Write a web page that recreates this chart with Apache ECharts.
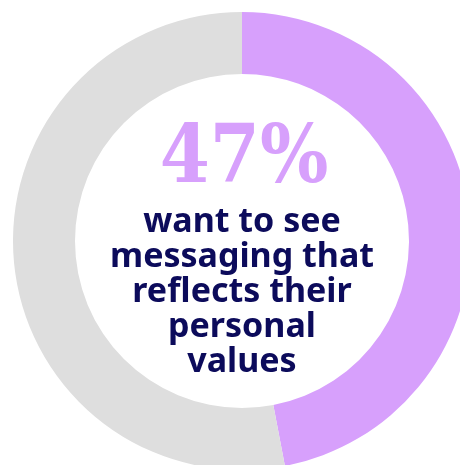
<!DOCTYPE html>
<html>
<head>
<meta charset="utf-8">
<script src="https://cdn.jsdelivr.net/npm/echarts@6/dist/echarts.min.js"></script>
<style>
  html, body { margin: 0; padding: 0; background: #ffffff; }
  #chart { width: 460px; height: 465px; }
</style>
</head>
<body>
<div id="chart"></div>
<script>
// Share of respondents, ring segments
const segmentNames = ['Want value-aligned messaging', 'Other'];
const segmentValues = [47, 53];
const segmentColors = ['#D7A0FC', '#DEDEDE'];

// Caption lines under the headline figure
const captionLines = ['want to see', 'messaging that', 'reflects their', 'personal', 'values'];

const chart = echarts.init(document.getElementById('chart'), null, { renderer: 'canvas' });

const cx = 242, cy = 241;

chart.setOption({
  animation: false,
  series: [{
    type: 'pie',
    center: [cx, cy],
    radius: [167, 229],
    startAngle: 90,
    clockwise: true,
    silent: true,
    label: { show: false },
    labelLine: { show: false },
    emphasis: { disabled: true },
    itemStyle: { borderWidth: 0 },
    data: segmentNames.map((n, i) => ({
      name: n,
      value: segmentValues[i],
      itemStyle: { color: segmentColors[i] }
    }))
  }],
  graphic: [
    {
      type: 'text',
      x: cx + 2,
      y: 121,
      style: {
        text: segmentValues[0] + '%',
        font: 'bold 80px "DejaVu Serif Condensed", "DejaVu Serif", serif',
        fill: '#D7A0FC',
        align: 'center',
        verticalAlign: 'top'
      }
    },
    {
      type: 'text',
      x: cx,
      y: 205,
      style: {
        text: captionLines.join('\n'),
        font: 'bold 34px "Noto Sans", sans-serif',
        lineHeight: 35,
        fill: '#0C0B5B',
        align: 'center',
        verticalAlign: 'top'
      }
    }
  ]
});
</script>
</body>
</html>
